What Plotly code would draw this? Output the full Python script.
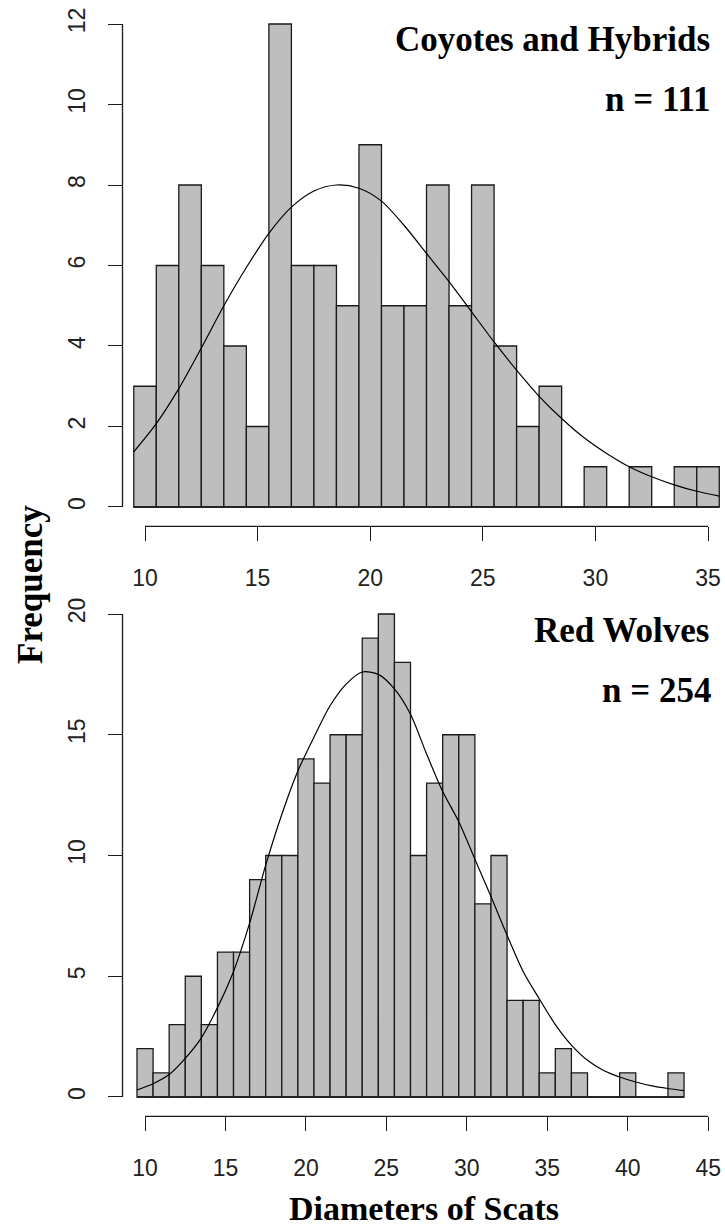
import plotly.graph_objects as go

# ---------------- data ----------------
coy_bins = [10, 11, 12, 13, 14, 15, 16, 17, 18, 19, 20, 21, 22,
            23, 24, 25, 26, 27, 28, 29, 30, 31, 32, 33, 34, 35]
coy_counts = [3, 6, 8, 6, 4, 2, 12, 6, 6, 5, 9, 5, 5,
              8, 5, 8, 4, 2, 3, 0, 1, 0, 1, 0, 1, 1]
coy_curve_x = [9.5, 10.5, 11.5, 12.5, 13.5, 14.5, 15.5, 16.5, 17.5, 18.5,
               19.5, 20.5, 21.5, 22.5, 23.5, 24.5, 25.5, 26.5, 27.5, 28.5,
               29.5, 30.5, 31.5, 32.5, 33.5, 34.5, 35.5]
coy_curve_y = [1.37, 2.07, 2.94, 3.95, 5.0, 5.95, 6.8, 7.45, 7.85, 8.0,
               7.92, 7.6, 7.0, 6.3, 5.6, 4.85, 4.1, 3.4, 2.75, 2.2,
               1.72, 1.33, 1.0, 0.75, 0.55, 0.39, 0.27]

wolf_bins = [10, 11, 12, 13, 14, 15, 16, 17, 18, 19, 20, 21, 22, 23, 24, 25, 26,
             27, 28, 29, 30, 31, 32, 33, 34, 35, 36, 37, 38, 39, 40, 41, 42, 43]
wolf_counts = [2, 1, 3, 5, 3, 6, 6, 9, 10, 10, 14, 13, 15, 15, 19, 20, 18,
               10, 13, 15, 15, 8, 10, 4, 4, 1, 2, 1, 0, 0, 1, 0, 0, 1]
wolf_curve_x = [9.5, 10.5, 11.5, 12.5, 13.5, 14.5, 15.5, 16.5, 17.5, 18.5,
                19.5, 20.5, 21.5, 22.5, 23.5, 24.5, 25.5, 26.5, 27.5, 28.5,
                29.5, 30.5, 31.5, 32.5, 33.5, 34.5, 35.5, 36.5, 37.5, 38.5,
                39.5, 40.5, 41.5, 42.5, 43.5]
wolf_curve_y = [0.29, 0.55, 0.93, 1.6, 2.45, 3.7, 5.2, 7.2, 9.6, 11.7,
                13.5, 14.9, 16.2, 17.1, 17.6, 17.5, 16.9, 15.85, 14.2, 12.65,
                11.4, 9.85, 8.3, 6.7, 5.2, 4.07, 3.0, 2.15, 1.52, 1.1,
                0.83, 0.62, 0.46, 0.35, 0.26]

coy_xticks = [10, 15, 20, 25, 30, 35]
coy_yticks = [0, 2, 4, 6, 8, 10, 12]
wolf_xticks = [10, 15, 20, 25, 30, 35, 40, 45]
wolf_yticks = [0, 5, 10, 15, 20]

# ---------------- styling ----------------
W, H = 725, 1232
BAR_FILL = "#bebebe"
EDGE = "#1a1a1a"
TICK_FONT = dict(family="Liberation Sans, Arial, sans-serif", size=23, color="#222222")
SERIF = "Liberation Serif, Times New Roman, serif"

left_px = 122.5
dom_x = [left_px / W, 1.0]

fig = go.Figure()

def add_panel(bins, counts, cx, cy, xa, ya):
    fig.add_trace(go.Bar(
        x=bins, y=counts, width=1,
        marker=dict(color=BAR_FILL, line=dict(color=EDGE, width=1.3)),
        xaxis=xa, yaxis=ya, showlegend=False, hoverinfo="skip"))
    fig.add_trace(go.Scatter(
        x=[bins[0] - 0.5, bins[-1] + 0.5], y=[0, 0], mode="lines",
        line=dict(color=EDGE, width=1.3), xaxis=xa, yaxis=ya,
        showlegend=False, hoverinfo="skip"))
    fig.add_trace(go.Scatter(
        x=cx, y=cy, mode="lines",
        line=dict(color="black", width=1.2, shape="spline", smoothing=0.8),
        xaxis=xa, yaxis=ya, showlegend=False, hoverinfo="skip"))

add_panel(coy_bins, coy_counts, coy_curve_x, coy_curve_y, "x", "y")
add_panel(wolf_bins, wolf_counts, wolf_curve_x, wolf_curve_y, "x2", "y2")

axis_common = dict(showgrid=False, zeroline=False, showline=False,
                   ticks="outside", ticklen=14, tickwidth=1.3, tickcolor=EDGE,
                   tickfont=TICK_FONT, fixedrange=True)

# top panel: 22.52 px per unit, bottom: 16.09 px per unit
top_range_x = [9.0, 9.0 + (W - left_px) / 22.52]
bot_range_x = [8.6, 8.6 + (W - left_px) / 16.09]

fig.update_layout(
    width=W, height=H, autosize=False,
    margin=dict(l=0, r=0, t=0, b=0, pad=0),
    paper_bgcolor="white", plot_bgcolor="white",
    showlegend=False,
    xaxis=dict(domain=dom_x, range=top_range_x, anchor="y",
               tickvals=coy_xticks, ticklabelstandoff=17, **axis_common),
    yaxis=dict(domain=[1 - 526.3 / H, 1 - 4.7 / H], range=[-0.48, 12.48], anchor="x",
               tickvals=coy_yticks, tickangle=-90, ticklabelstandoff=13, **axis_common),
    xaxis2=dict(domain=dom_x, range=bot_range_x, anchor="y2",
                tickvals=wolf_xticks, ticklabelstandoff=17, **axis_common),
    yaxis2=dict(domain=[1 - 1116.3 / H, 1 - 594.7 / H], range=[-0.8, 20.8], anchor="x2",
                tickvals=wolf_yticks, tickangle=-90, ticklabelstandoff=13, **axis_common),
)

# R-style axis lines spanning only first..last tick
shapes = []
for xa, ya, xt, yt in [("x", "y", coy_xticks, coy_yticks), ("x2", "y2", wolf_xticks, wolf_yticks)]:
    shapes.append(dict(type="line", xref=xa, yref=f"{ya} domain", x0=xt[0], x1=xt[-1], y0=0, y1=0,
                       line=dict(color=EDGE, width=1.3)))
    shapes.append(dict(type="line", xref=f"{xa} domain", yref=ya, x0=0, x1=0, y0=yt[0], y1=yt[-1],
                       line=dict(color=EDGE, width=1.3)))
fig.update_layout(shapes=shapes)

def ann(text, xpx, ypx, anchor="right", angle=0, size=35):
    fig.add_annotation(text=text, xref="paper", yref="paper",
                       x=xpx / W, y=1 - ypx / H, xanchor=anchor, yanchor="middle",
                       showarrow=False, textangle=angle,
                       font=dict(family=SERIF, size=size, color="black", weight="bold"))

ann("<b>Coyotes and Hybrids</b>", 712, 40)
ann("<b>n = 111</b>", 713, 99)
ann("<b>Red Wolves</b>", 711, 630)
ann("<b>n = 254</b>", 713, 690)
ann("<b>Frequency</b>", 30, 585, anchor="center", angle=-90)
ann("<b>Diameters of Scats</b>", 424, 1208, anchor="center", size=34)

fig.write_html("out.html")
